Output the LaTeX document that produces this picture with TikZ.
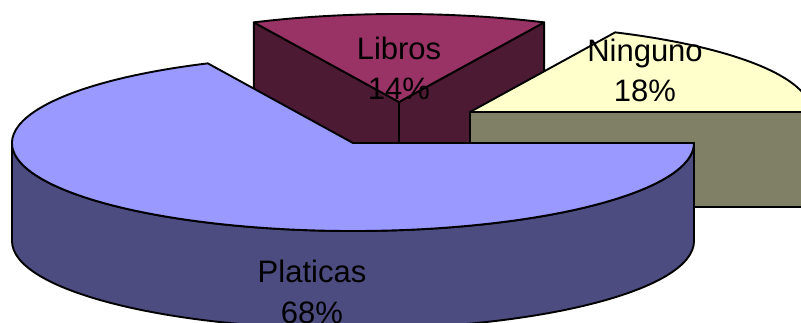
\documentclass[tikz,border=0pt]{standalone}
\usepackage{fontspec}
\setmainfont{Liberation Sans}
\usetikzlibrary{calc}
\definecolor{platop}{HTML}{9999FF}
\definecolor{plaside}{HTML}{4C4C80}
\definecolor{libtop}{HTML}{993366}
\definecolor{libside}{HTML}{4D1A33}
\definecolor{nintop}{HTML}{FFFFCC}
\definecolor{ninside}{HTML}{808066}
\begin{document}
\begin{tikzpicture}[x=1pt,y=1pt,
  face/.style={draw=black,line width=1.9pt,line join=round},
  lbl/.style={font=\fontsize{31}{40}\selectfont,anchor=base,inner sep=0pt,text=black}]
\useasboundingbox (0,0) rectangle (801,323);
\clip (0,0) rectangle (801,323);
\coordinate (L) at (399,221);
\coordinate (N) at (470,211);
\coordinate (P) at (353,180);
\coordinate (L1) at ($(L)+(115.2:341pt and 88pt)$);
\coordinate (L2) at ($(L)+(64.8:341pt and 88pt)$);
\coordinate (P1) at ($(P)+(115.2:341pt and 88pt)$);
% Libros
\draw[face,fill=libside] (L) -- (L1) -- ($(L1)+(0,-98)$) -- ($(L)+(0,-98)$) -- cycle;
\draw[face,fill=libside] (L) -- (L2) -- ($(L2)+(0,-98)$) -- ($(L)+(0,-98)$) -- cycle;
\draw[face,fill=libtop] (L) -- (L2) arc[start angle=64.8,end angle=115.2,x radius=341pt,y radius=88pt] -- cycle;
% Ninguno
\draw[face,fill=ninside] (N) rectangle ++(341,-95);
\draw[face,fill=nintop] (N) -- ++(341,0) arc[start angle=0,end angle=64.8,x radius=341pt,y radius=88pt] -- cycle;
% Platicas
\draw[face,fill=plaside] ($(P)+(-341,0)$) -- ++(0,-98) arc[start angle=180,end angle=360,x radius=341pt,y radius=88pt] -- ++(0,98) arc[start angle=0,end angle=-180,x radius=341pt,y radius=88pt] -- cycle;
\draw[face,fill=platop] (P) -- (P1) arc[start angle=115.2,end angle=360,x radius=341pt,y radius=88pt] -- cycle;
% labels
\node[lbl] (libros) at (399,263) {Libros};
\node[lbl] (libpct) at (399,223) {14\%};
\node[lbl] (ninguno) at (645,261) {Ninguno};
\node[lbl] (ninpct) at (645,221) {18\%};
\node[lbl] (platicas) at (312,40) {Platicas};
\node[lbl] (plapct) at (312,-1) {68\%};
\end{tikzpicture}
\end{document}
